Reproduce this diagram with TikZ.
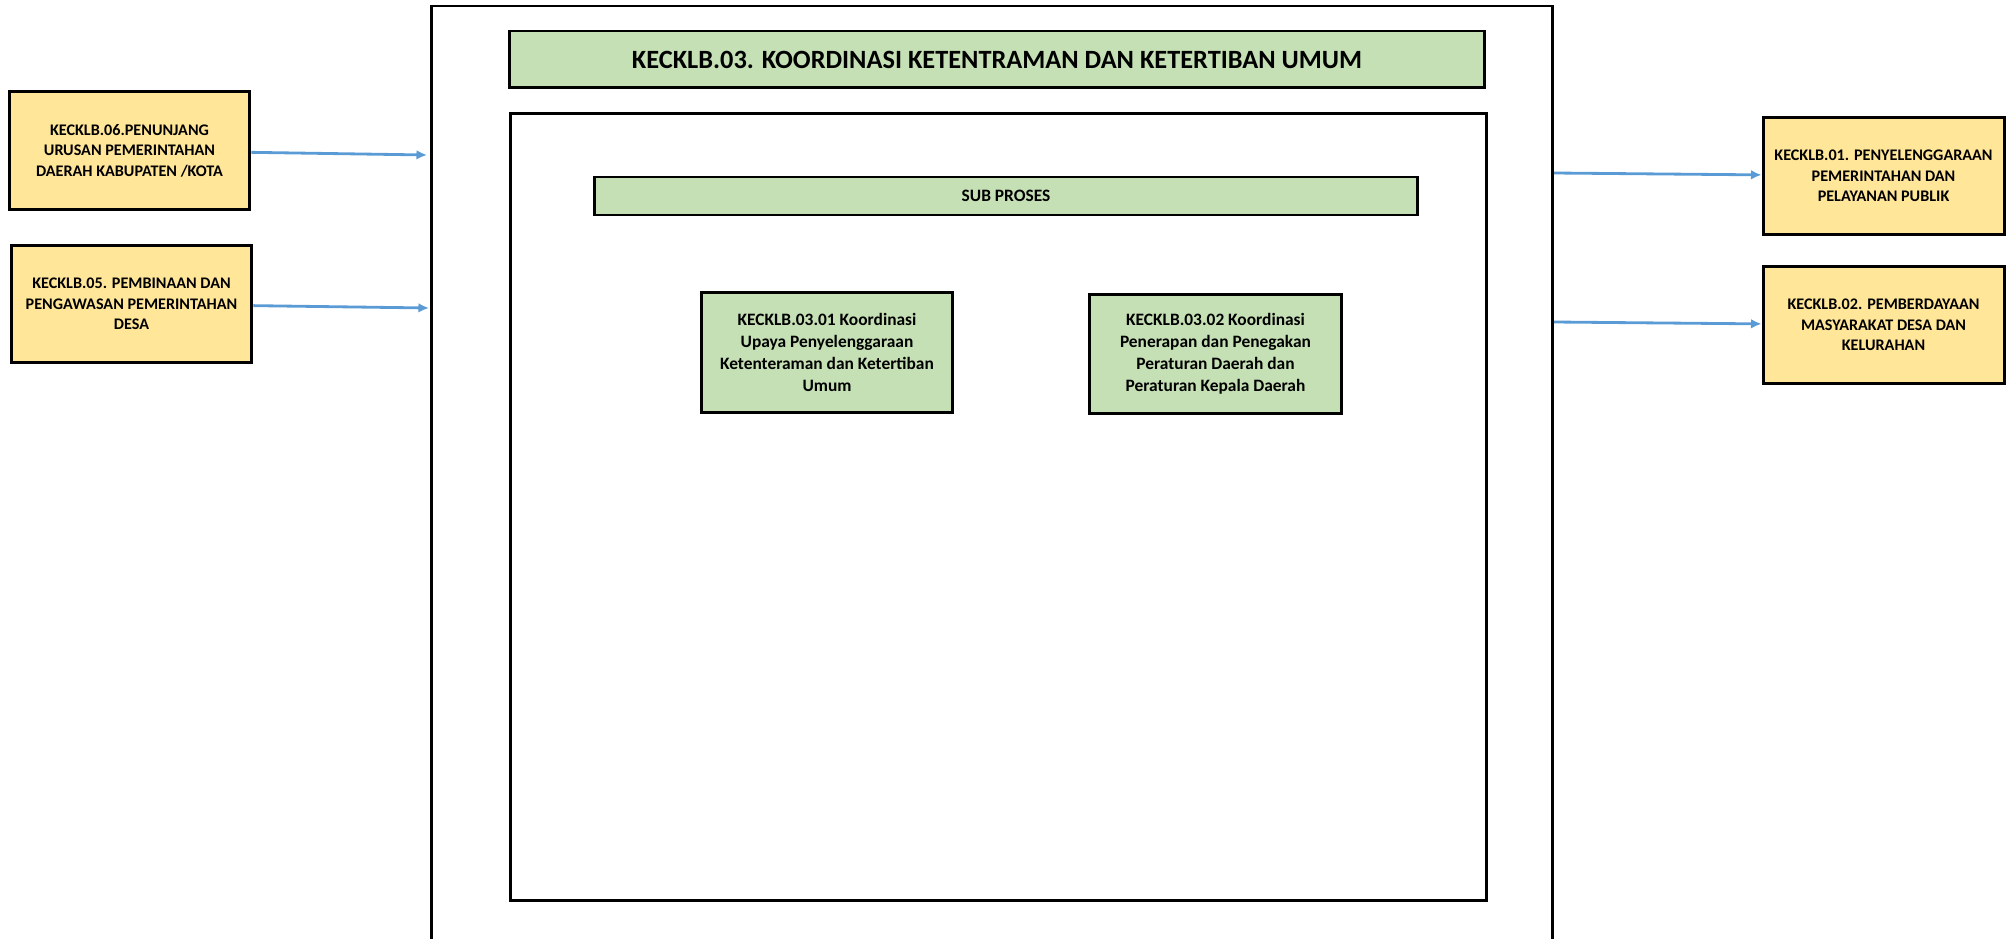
\documentclass[tikz,border=0pt]{standalone}
\usepackage{fontspec}
\setmainfont{Carlito}
\usetikzlibrary{arrows.meta}
\definecolor{boxyellow}{HTML}{FFE699}
\definecolor{boxgreen}{HTML}{C5E0B4}
\definecolor{flowblue}{HTML}{5B9BD5}

\begin{document}
\begin{tikzpicture}[x=0.02cm,y=-0.02cm,
		>={Latex[length=6pt,width=5.5pt]},
		every node/.style={align=center},
		frame/.style={draw,line width=1.7pt},
		sidebox/.style={frame,fill=boxyellow,minimum width=4.82cm,minimum height=2.35cm,font=\bfseries\fontsize{9.2}{11.7}\selectfont},
		subbox/.style={frame,fill=boxgreen,minimum width=5.04cm,minimum height=2.4cm,font=\bfseries\fontsize{9.9}{12.6}\selectfont},
		flow/.style={->,draw=flowblue,line width=1.6pt}]
		
		\useasboundingbox (0,0) rectangle (2010,939);
		
		% outer process frame, open at the bottom
		\draw[frame] (431,950) -- (431,6) -- (1552,6) -- (1552,950);
		\node[frame,fill=boxgreen,minimum width=19.52cm,minimum height=1.14cm,font=\bfseries\fontsize{15}{18}\selectfont] (title) at (997,59.5) {KECKLB.03. KOORDINASI KETENTRAMAN DAN KETERTIBAN UMUM};
		\node[frame,minimum width=19.54cm,minimum height=15.76cm] (inner) at (998.5,507) {};
		\node[frame,fill=boxgreen,minimum width=16.48cm,minimum height=0.76cm,font=\bfseries\fontsize{9.9}{11}\selectfont] (subproses) at (1006,196) {SUB PROSES};
		
		\node[subbox] (sub1) at (827,352.5) {KECKLB.03.01 Koordinasi\\Upaya Penyelenggaraan\\Ketenteraman dan Ketertiban\\Umum};
		\node[subbox] (sub2) at (1215.5,354) {KECKLB.03.02 Koordinasi\\Penerapan dan Penegakan\\Peraturan Daerah dan\\Peraturan Kepala Daerah};
		
		% inputs and outputs
		\node[sidebox] (in06) at (129.5,150.5) {KECKLB.06.PENUNJANG\\URUSAN PEMERINTAHAN\\DAERAH KABUPATEN /KOTA};
		\node[sidebox] (in05) at (131.5,304) {KECKLB.05. PEMBINAAN DAN\\PENGAWASAN PEMERINTAHAN\\DESA};
		\node[sidebox] (out01) at (1883.5,176) {KECKLB.01. PENYELENGGARAAN\\PEMERINTAHAN DAN\\PELAYANAN PUBLIK};
		\node[sidebox] (out02) at (1883.5,325) {KECKLB.02. PEMBERDAYAAN\\MASYARAKAT DESA DAN\\KELURAHAN};
		
		\coordinate (a1) at (427,155);
		\coordinate (a2) at (429,308);
		\coordinate (b1) at (1554,173);
		\coordinate (b2) at (1554,322);
		
		\draw[flow] (in06) -- (a1);
		\draw[flow] (in05) -- (a2);
		\draw[flow] (b1) -- (out01);
		\draw[flow] (b2) -- (out02);
		\end{tikzpicture}
\end{document}
